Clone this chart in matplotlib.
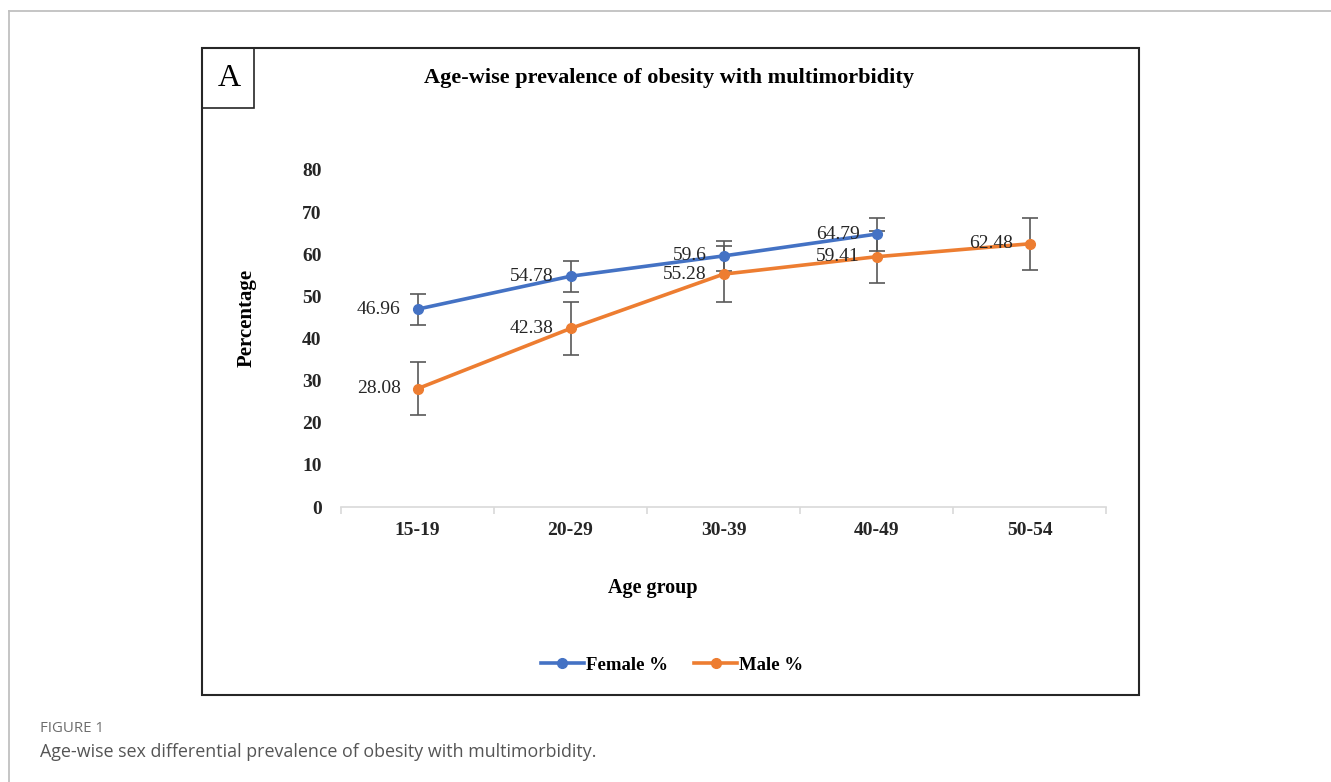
import matplotlib.pyplot as plt
from matplotlib.patches import Rectangle
from matplotlib.lines import Line2D

age_groups = ['15-19', '20-29', '30-39', '40-49', '50-54']
female_pct = [46.96, 54.78, 59.6, 64.79]
female_err = [3.7, 3.7, 3.6, 3.9]
male_pct = [28.08, 42.38, 55.28, 59.41, 62.48]
male_err = [6.3, 6.4, 6.7, 6.2, 6.2]

W, H = 1331, 782
plt.rcParams['font.family'] = ['Liberation Serif', 'DejaVu Serif']

fig = plt.figure(figsize=(W / 100, H / 100), dpi=100)


def fx(px):
    return px / W


def fy(py):
    return 1 - py / H


# outer grey page frame
fig.add_artist(Line2D([fx(9), fx(9)], [fy(11), 0], color='#c0c0c0', lw=1.3))
fig.add_artist(Line2D([fx(9), 1], [fy(11), fy(11)], color='#c0c0c0', lw=1.3))

# chart box and panel letter box
fig.add_artist(Rectangle((fx(202), fy(695)), fx(1139) - fx(202), fy(48) - fy(695),
                         fill=False, ec='#262626', lw=1.5))
fig.add_artist(Rectangle((fx(202), fy(108)), fx(254) - fx(202), fy(48) - fy(108),
                         fill=False, ec='#262626', lw=1.2))
fig.text(fx(229), fy(79), 'A', ha='center', va='center', fontsize=23)
fig.text(fx(669), fy(78), 'Age-wise prevalence of obesity with multimorbidity',
         ha='center', va='center', fontsize=16, fontweight='bold')

ax = fig.add_axes([fx(341), fy(507), fx(1106) - fx(341), fy(170) - fy(507)])

x_f = list(range(len(female_pct)))
x_m = list(range(len(male_pct)))

ax.errorbar(x_f, female_pct, yerr=female_err, fmt='none', ecolor='#595959',
            elinewidth=1.2, capsize=6, capthick=1.2, zorder=2)
ax.errorbar(x_m, male_pct, yerr=male_err, fmt='none', ecolor='#595959',
            elinewidth=1.2, capsize=6, capthick=1.2, zorder=2)
ax.plot(x_f, female_pct, color='#4472C4', lw=2.6, marker='o', ms=7,
        label='Female %', zorder=3)
ax.plot(x_m, male_pct, color='#ED7D31', lw=2.6, marker='o', ms=7,
        label='Male %', zorder=3)

for xi, v in zip(x_f, female_pct):
    ax.annotate(f'{v:g}', (xi, v), xytext=(-12, 0), textcoords='offset points',
                ha='right', va='center', fontsize=14, color='#262626')
for xi, v in zip(x_m, male_pct):
    ax.annotate(f'{v:g}', (xi, v), xytext=(-12, 0), textcoords='offset points',
                ha='right', va='center', fontsize=14, color='#262626')

ax.set_xlim(-0.5, len(age_groups) - 0.5)
ax.set_ylim(0, 80)
ax.set_yticks(range(0, 81, 10))
ax.set_xticks(range(len(age_groups)))
ax.set_xticklabels(age_groups)
ax.set_xticks([i - 0.5 for i in range(len(age_groups) + 1)], minor=True)
ax.tick_params(axis='x', which='major', length=0, pad=11)
ax.tick_params(axis='x', which='minor', length=5, color='#d9d9d9', width=1.2)
ax.tick_params(axis='y', length=0, pad=14)
for lab in ax.get_xticklabels() + ax.get_yticklabels():
    lab.set_fontweight('bold')
    lab.set_fontsize(14)
    lab.set_color('#262626')

for s in ['top', 'right', 'left']:
    ax.spines[s].set_visible(False)
ax.spines['bottom'].set_color('#d9d9d9')
ax.spines['bottom'].set_linewidth(1.2)

fig.text(fx(247), fy(318), 'Percentage', rotation=90, ha='center', va='center',
         fontsize=15, fontweight='bold')
fig.text(fx(653), fy(588), 'Age group', ha='center', va='center',
         fontsize=14.5, fontweight='bold')

handles, labels = ax.get_legend_handles_labels()
fig.legend(handles, labels, loc='center', bbox_to_anchor=(fx(672), fy(665)),
           ncol=2, frameon=False, prop={'weight': 'bold', 'size': 13.5},
           handlelength=2.3, columnspacing=1.4, handletextpad=0.1)

# caption
fig.text(fx(40), fy(728), 'FIGURE 1', ha='left', va='center', fontsize=10.8,
         color='#6d6d6d', family='Open Sans')
fig.text(fx(40), fy(752), 'Age-wise sex differential prevalence of obesity with multimorbidity.',
         ha='left', va='center', fontsize=12.9, color='#555555', family='Open Sans')

fig.savefig('out.png', dpi=100)
